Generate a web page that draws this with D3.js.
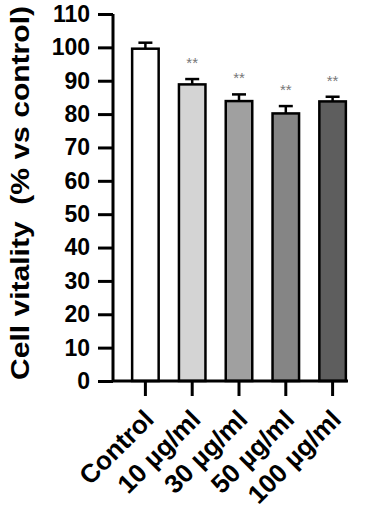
<!DOCTYPE html>
<html>
<head>
<meta charset="utf-8">
<script src="https://cdn.jsdelivr.net/npm/d3@7"></script>
<style>
  body { margin: 0; background: #fff; }
  text { font-family: Arial, "Liberation Sans", sans-serif; }
</style>
</head>
<body>
<div id="chart"></div>
<script>
// data
const groups = ["Control", "10 µg/ml", "30 µg/ml", "50 µg/ml", "100 µg/ml"];
const means = [99.6, 88.9, 83.9, 80.2, 83.8];
const errors = [1.8, 1.6, 2.0, 2.2, 1.4];
const marks = ["", "**", "**", "**", "**"];
const fills = ["#ffffff", "#d4d4d4", "#a0a0a0", "#858585", "#5e5e5e"];
const yTicks = [0, 10, 20, 30, 40, 50, 60, 70, 80, 90, 100, 110];

const W = 367, H = 511;
const axisX = 113, axisEnd = 348;

const svg = d3.select("#chart")
    .append("svg")
    .attr("width", W)
    .attr("height", H);

const y = d3.scaleLinear()
    .domain([0, 110])
    .range([381, 14]);

const x = d3.scaleBand()
    .domain(groups)
    .range([122, 356])
    .paddingInner(0.38)
    .paddingOuter(0.19);

const bw = x.bandwidth();

// bars
svg.append("g")
    .selectAll("rect")
    .data(groups)
    .enter().append("rect")
    .attr("x", d => x(d) + 1.25)
    .attr("width", bw - 2.5)
    .attr("y", (d, i) => y(means[i]))
    .attr("height", (d, i) => y(0) - y(means[i]))
    .attr("fill", (d, i) => fills[i])
    .attr("stroke", "#000")
    .attr("stroke-width", 2.5);

// error bars
const eb = svg.append("g").attr("stroke", "#000").attr("stroke-width", 2.5);
groups.forEach(function (g, i) {
    let cx = x(g) + bw / 2;
    eb.append("line")
        .attr("x1", cx).attr("x2", cx)
        .attr("y1", y(means[i])).attr("y2", y(means[i] + errors[i]));
    eb.append("line")
        .attr("x1", cx - 7).attr("x2", cx + 7)
        .attr("y1", y(means[i] + errors[i])).attr("y2", y(means[i] + errors[i]));
});

// significance stars
svg.append("g")
    .selectAll("text")
    .data(groups)
    .enter().append("text")
    .attr("x", d => x(d) + bw / 2)
    .attr("y", (d, i) => y(means[i] + errors[i]) - 11)
    .attr("text-anchor", "middle")
    .attr("font-size", 15)
    .attr("fill", "#777")
    .text((d, i) => marks[i]);

// y axis
const yAxis = svg.append("g")
    .attr("transform", `translate(${axisX},0)`)
    .call(d3.axisLeft(y).tickValues(yTicks).tickSize(15).tickPadding(8));
yAxis.select(".domain").attr("stroke-width", 3).attr("d", `M0,${y(110)}V${y(0)}`);
yAxis.selectAll(".tick line").attr("stroke-width", 3);
yAxis.selectAll(".tick text")
    .attr("font-size", 23)
    .attr("font-weight", "bold")
    .attr("fill", "#000");

// x axis
const xAxis = svg.append("g")
    .attr("transform", `translate(0,${y(0)})`)
    .call(d3.axisBottom(x).tickSize(15).tickSizeOuter(0));
xAxis.select(".domain").attr("stroke-width", 3).attr("d", `M${axisX},0H${axisEnd}`);
xAxis.selectAll(".tick line").attr("stroke-width", 3);
xAxis.selectAll(".tick text")
    .attr("font-size", 26)
    .attr("font-weight", "bold")
    .attr("fill", "#000")
    .attr("text-anchor", "end")
    .attr("dy", null)
    .attr("y", 0)
    .attr("transform", "translate(10,40) rotate(-45)");

// y axis title
svg.append("text")
    .attr("transform", "translate(29,193) rotate(-90)")
    .attr("text-anchor", "middle")
    .attr("font-size", 26)
    .attr("font-weight", "bold")
    .attr("textLength", 374)
    .attr("lengthAdjust", "spacingAndGlyphs")
    .style("white-space", "pre")
    .text("Cell vitality  (% vs control)");
</script>
</body>
</html>
